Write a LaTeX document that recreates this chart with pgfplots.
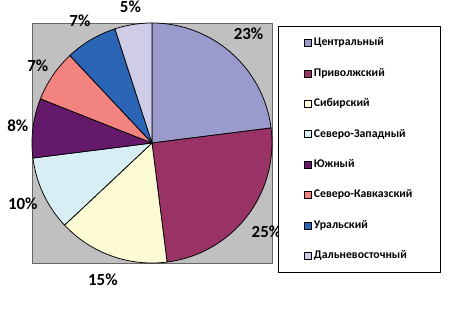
\documentclass[border=0pt]{standalone}
\usepackage{fontspec}
\setmainfont{Carlito}
\usepackage{pgfplots}
\usepackage{pgfplotstable}
\pgfplotsset{compat=1.18}
\definecolor{c0}{HTML}{9A9ACC}
\definecolor{c1}{HTML}{993366}
\definecolor{c2}{HTML}{FDFBD3}
\definecolor{c3}{HTML}{D8EEF5}
\definecolor{c4}{HTML}{64196B}
\definecolor{c5}{HTML}{F3837F}
\definecolor{c6}{HTML}{2A66B5}
\definecolor{c7}{HTML}{CFCCE8}
\definecolor{plotgray}{HTML}{C0C0C0}
% value, label distance from centre (in radii)
\pgfplotstableread{
value lr
23 1.217
25 1.207
15 1.208
10 1.19
8 1.127
7 1.15
7 1.18
5 1.152
}\piedata
\newcommand\labelfont{\bfseries\fontsize{17}{20}\selectfont}
\begin{document}
\begin{tikzpicture}
\useasboundingbox (-32bp,-47bp) rectangle (424bp,263bp);
\begin{axis}[
  x=120bp, y=120bp,
  xmin=-1, xmax=1, ymin=-1, ymax=1,
  ticks=none,
  clip=false,
  axis line style={draw=gray!80!black, line width=0.6bp},
  axis background/.style={fill=plotgray},
  legend image code/.code={\draw[#1, line width=0.5bp] (0bp,-3.5bp) rectangle (7bp,3.5bp);},
  legend style={
    at={(1.025,0.9875)}, anchor=north west,
    draw=black, line width=0.8bp, fill=white,
    inner xsep=26bp, inner ysep=9bp,
    row sep=15.4bp,
    font=\bfseries\fontsize{11.8}{13}\selectfont,
    nodes={text height=8.5bp, text depth=2.5bp, inner sep=2bp},
  },
  legend cell align=left,
  legend entries={Центральный, Приволжский, Сибирский, Северо-Западный, Южный, Северо-Кавказский, Уральский, Дальневосточный},
]
\def\cum{0}
\pgfplotsforeachungrouped \i in {0,...,7}{%
  \pgfplotstablegetelem{\i}{value}\of\piedata
  \let\v\pgfplotsretval
  \pgfplotstablegetelem{\i}{lr}\of\piedata
  \let\lr\pgfplotsretval
  \pgfmathsetmacro\a{90-3.6*\cum}%
  \pgfmathsetmacro\cum{\cum+\v}%
  \pgfmathsetmacro\b{90-3.6*\cum}%
  \pgfmathsetmacro\m{(\a+\b)/2}%
  \edef\cmd{\noexpand\addplot[draw=black, line width=0.75bp, fill=c\i, domain=\b:\a, samples=60] ({cos(x)},{sin(x)}) -- (axis cs:0,0) -- cycle;
  \noexpand\node[font=\noexpand\labelfont] at (axis cs:{\lr*cos(\m)},{\lr*sin(\m)}) {\v\noexpand\%};}%
  \cmd
}
\end{axis}
\end{tikzpicture}
\end{document}
